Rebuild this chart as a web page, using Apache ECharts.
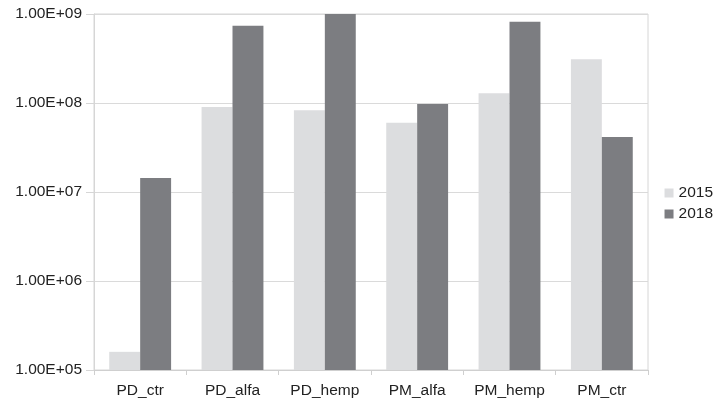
<!DOCTYPE html>
<html>
<head>
<meta charset="utf-8">
<script src="https://cdn.jsdelivr.net/npm/echarts@6/dist/echarts.min.js"></script>
<style>
  html, body { margin: 0; padding: 0; background: #ffffff; }
  #chart { width: 720px; height: 407px; }
</style>
</head>
<body>
<div id="chart"></div>
<script>
// Sample groups along the x axis
const categories = ['PD_ctr', 'PD_alfa', 'PD_hemp', 'PM_alfa', 'PM_hemp', 'PM_ctr'];
// Measured values per year (log scale)
const values2015 = [1.6e5, 9.0e7, 8.3e7, 6.0e7, 1.29e8, 3.1e8];
const values2018 = [1.44e7, 7.4e8, 1.0e9, 9.75e7, 8.2e8, 4.15e7];
const seriesNames = ['2015', '2018'];
// Log axis range
const yMin = 1e5;
const yMax = 1e9;

function sciLabel(v) {
  const exp = Math.round(Math.log10(v));
  const mant = v / Math.pow(10, exp);
  const sign = exp < 0 ? '-' : '+';
  const e = String(Math.abs(exp)).padStart(2, '0');
  return mant.toFixed(2) + 'E' + sign + e;
}

const font = 'Liberation Sans, Arial, sans-serif';
const chart = echarts.init(document.getElementById('chart'), null, { renderer: 'canvas' });
chart.setOption({
  backgroundColor: '#ffffff',
  animation: false,
  grid: {
    left: 94, right: 72, top: 14, bottom: 37,
    show: true, borderColor: '#d6d6d6', borderWidth: 1, backgroundColor: 'transparent'
  },
  legend: {
    orient: 'vertical',
    right: 2,
    top: 180,
    itemWidth: 9,
    itemHeight: 9,
    itemGap: 5,
    icon: 'rect',
    textStyle: { fontFamily: font, fontSize: 15.5, color: '#222' },
    data: seriesNames
  },
  xAxis: {
    type: 'category',
    data: categories,
    boundaryGap: true,
    axisLine: { show: true, lineStyle: { color: '#cfcfcf', width: 1 } },
    axisTick: { show: true, length: 5, lineStyle: { color: '#cfcfcf' } },
    axisLabel: { interval: 0, fontFamily: font, fontSize: 15.5, color: '#222', margin: 13 }
  },
  yAxis: {
    type: 'log',
    logBase: 10,
    min: yMin,
    max: yMax,
    axisLine: { show: true, lineStyle: { color: '#d6d6d6', width: 1 } },
    axisTick: { show: true, length: 8, lineStyle: { color: '#d6d6d6' } },
    splitLine: { show: true, lineStyle: { color: '#dadada', width: 1 } },
    axisLabel: { fontFamily: font, fontSize: 15.5, color: '#222', margin: 12, formatter: sciLabel }
  },
  series: [
    {
      name: seriesNames[0], type: 'bar', data: values2015,
      barGap: '0%', barCategoryGap: '33%',
      itemStyle: { color: '#dcdddf' }
    },
    {
      name: seriesNames[1], type: 'bar', data: values2018,
      barGap: '0%', barCategoryGap: '33%',
      itemStyle: { color: '#7c7d81' }
    }
  ]
});
</script>
</body>
</html>
